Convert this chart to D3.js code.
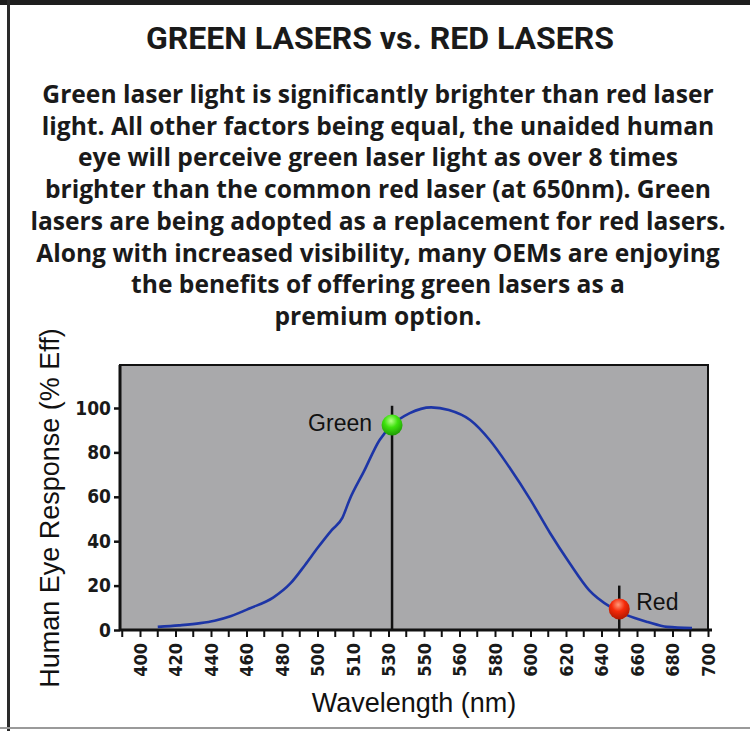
<!DOCTYPE html>
<html>
<head>
<meta charset="utf-8">
<script src="https://cdn.jsdelivr.net/npm/d3@7"></script>
<style>
  html, body { margin: 0; padding: 0; background: #fff; }
  svg { display: block; }
</style>
</head>
<body>
<svg id="chart"></svg>
<script>
// chart data
const titleText = "GREEN LASERS vs. RED LASERS";
const bodyLines = [
  "Green laser light is significantly brighter than red laser",
  "light. All other factors being equal, the unaided human",
  "eye will perceive green laser light as over 8 times",
  "brighter than the common red laser (at 650nm). Green",
  "lasers are being adopted as a replacement for red lasers.",
  "Along with increased visibility, many OEMs are enjoying",
  "the benefits of offering green lasers as a",
  "premium option."
];
const xTickValues = [400, 420, 440, 460, 480, 500, 510, 530, 550, 560, 580, 600, 620, 640, 660, 680, 700];
const yTickValues = [0, 20, 40, 60, 80, 100];
const wavelengths = [410, 422, 434, 442, 451, 462, 475, 485, 493, 500, 504, 507, 509, 516, 525, 532, 542, 552, 557, 566, 577, 588, 600, 611, 622, 633, 645, 654, 666, 677, 691];
const responses = [1.4, 2.1, 3.1, 4.2, 6.2, 9.8, 14.6, 21.2, 29.3, 36.9, 45, 50.5, 58.6, 71.2, 85.6, 92.3, 97.7, 100.3, 99.1, 94.6, 85.6, 73.4, 58.6, 43.7, 30.2, 18, 10.4, 6.8, 3.6, 1.4, 0.9];
const laserNames = ["Green", "Red"];
const laserWavelengths = [532, 650];
const laserResponses = [92.3, 9.5];
const laserStemTops = [101, 20];
const xLabel = "Wavelength (nm)";
const yLabel = "Human Eye Response (% Eff)";

// layout
const width = 750, height = 731;
const plot = { left: 120, right: 708, top: 365, bottom: 630 };
const firstTickX = 140;
const laserStyle = [
  { light: "#b6ff8a", base: "#3ee20e", dark: "#1f9a05", labelDx: -20, labelDy: 6, anchor: "end" },
  { light: "#ff9a7a", base: "#f52a0a", dark: "#b01800", labelDx: 17, labelDy: 1, anchor: "start" }
];

const svg = d3.select("#chart").attr("width", width).attr("height", height);

// frame
svg.append("rect").attr("x", 0).attr("y", 0).attr("width", width).attr("height", 5).attr("fill", "#1e1e1e");
svg.append("rect").attr("x", 7).attr("y", 0).attr("width", 3).attr("height", height).attr("fill", "#2a2a2a");
svg.append("rect").attr("x", 0).attr("y", 727).attr("width", width).attr("height", 2).attr("fill", "#9a9a9a");

// title and body
svg.append("text")
  .attr("x", 380).attr("y", 49)
  .attr("text-anchor", "middle")
  .attr("font-family", "Roboto, 'Liberation Sans', sans-serif")
  .attr("font-weight", 700)
  .attr("font-size", 32)
  .attr("fill", "#1a1a1a")
  .text(titleText);

svg.append("g").selectAll("text")
  .data(bodyLines)
  .enter()
  .append("text")
  .attr("x", 378)
  .attr("y", (d, i) => 103 + i * 31.7)
  .attr("text-anchor", "middle")
  .attr("font-family", "'Open Sans', 'Noto Sans', sans-serif")
  .attr("font-weight", 700)
  .attr("font-size", 24.6)
  .attr("fill", "#1a1a1a")
  .text(d => d);

// scales
const xIndex = d3.scaleLinear().domain([0, xTickValues.length - 1]).range([firstTickX, plot.right]);
const x = d3.scaleLinear().domain(xTickValues).range(xTickValues.map((d, i) => xIndex(i)));
const y = d3.scaleLinear().domain([0, 100]).range([plot.bottom, 408]);

// plot background
svg.append("rect")
  .attr("x", plot.left).attr("y", plot.top)
  .attr("width", plot.right - plot.left).attr("height", plot.bottom - plot.top)
  .attr("fill", "#a9a9ab")
  .attr("stroke", "#111").attr("stroke-width", 2);

// minor ticks sit halfway between the labelled ones
const minorValues = [x.invert(firstTickX - (xIndex(1) - xIndex(0)) / 2)]
  .concat(d3.pairs(xTickValues).map(p => x.invert((x(p[0]) + x(p[1])) / 2)));

const tickFont = "'Liberation Sans Narrow', 'DejaVu Sans Condensed', sans-serif";

const xAxis = svg.append("g")
  .attr("transform", `translate(0,${plot.bottom})`)
  .call(d3.axisBottom(x).tickValues(xTickValues).tickSize(7).tickSizeOuter(0));
xAxis.select(".domain").attr("d", `M${plot.left},0H${plot.right + 4}`).attr("stroke", "#111").attr("stroke-width", 3);
xAxis.selectAll(".tick line").attr("stroke", "#111").attr("stroke-width", 2);
xAxis.selectAll(".tick text")
  .attr("transform", "rotate(-90)")
  .attr("x", -13).attr("y", 0).attr("dy", "0.36em")
  .attr("text-anchor", "end")
  .attr("font-family", tickFont)
  .attr("font-weight", 700)
  .attr("font-size", 18)
  .attr("fill", "#1a1a1a");

svg.append("g")
  .attr("transform", `translate(0,${plot.bottom})`)
  .selectAll("line")
  .data(minorValues)
  .enter()
  .append("line")
  .attr("x1", d => x(d)).attr("x2", d => x(d))
  .attr("y1", 0).attr("y2", 7)
  .attr("stroke", "#111").attr("stroke-width", 2);

const yAxis = svg.append("g")
  .attr("transform", `translate(${plot.left},0)`)
  .call(d3.axisLeft(y).tickValues(yTickValues).tickSize(6).tickSizeOuter(0));
yAxis.select(".domain").attr("d", `M0,${plot.top}V${plot.bottom + 1}`).attr("stroke", "#111").attr("stroke-width", 3);
yAxis.selectAll(".tick line").attr("stroke", "#111").attr("stroke-width", 2.5);
yAxis.selectAll(".tick text")
  .attr("x", -9)
  .attr("font-family", tickFont)
  .attr("font-weight", 700)
  .attr("font-size", 19)
  .attr("fill", "#1a1a1a");

// axis titles
svg.append("text")
  .attr("x", (plot.left + plot.right) / 2).attr("y", 712)
  .attr("text-anchor", "middle")
  .attr("font-family", "'Liberation Sans', Arial, sans-serif")
  .attr("font-size", 27)
  .attr("fill", "#111")
  .text(xLabel);

svg.append("text")
  .attr("transform", "translate(59,508) rotate(-90)")
  .attr("text-anchor", "middle")
  .attr("font-family", "'Liberation Sans', Arial, sans-serif")
  .attr("font-size", 27)
  .attr("fill", "#111")
  .text(yLabel);

// response curve
const line = d3.line()
  .x((d, i) => x(wavelengths[i]))
  .y(d => y(d))
  .curve(d3.curveMonotoneX);

svg.append("path")
  .datum(responses)
  .attr("d", line)
  .attr("fill", "none")
  .attr("stroke", "#1d35a6")
  .attr("stroke-width", 2.6);

// laser markers
const defs = svg.append("defs");
laserStyle.forEach((s, i) => {
  const g = defs.append("radialGradient").attr("id", "ball" + i)
    .attr("cx", "45%").attr("cy", "30%").attr("r", "70%");
  g.append("stop").attr("offset", "0%").attr("stop-color", s.light);
  g.append("stop").attr("offset", "45%").attr("stop-color", s.base);
  g.append("stop").attr("offset", "100%").attr("stop-color", s.dark);
});

const markers = svg.append("g").selectAll("g")
  .data(laserNames)
  .enter()
  .append("g");

markers.append("line")
  .attr("x1", (d, i) => x(laserWavelengths[i]))
  .attr("x2", (d, i) => x(laserWavelengths[i]))
  .attr("y1", y(0))
  .attr("y2", (d, i) => y(laserStemTops[i]))
  .attr("stroke", "#111")
  .attr("stroke-width", 2.5);

markers.append("circle")
  .attr("cx", (d, i) => x(laserWavelengths[i]))
  .attr("cy", (d, i) => y(laserResponses[i]))
  .attr("r", 10.5)
  .attr("fill", (d, i) => `url(#ball${i})`);

markers.append("text")
  .attr("x", (d, i) => x(laserWavelengths[i]) + laserStyle[i].labelDx)
  .attr("y", (d, i) => y(laserResponses[i]) + laserStyle[i].labelDy)
  .attr("text-anchor", (d, i) => laserStyle[i].anchor)
  .attr("font-family", "'Liberation Sans', Arial, sans-serif")
  .attr("font-size", 23)
  .attr("fill", "#111")
  .text(d => d);
</script>
</body>
</html>
